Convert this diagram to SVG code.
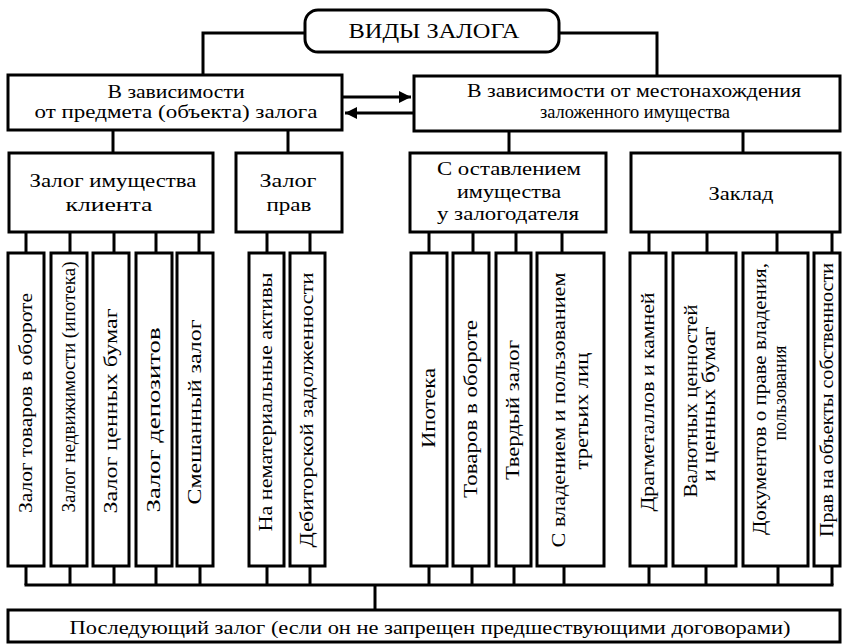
<svg xmlns="http://www.w3.org/2000/svg" width="848" height="644" viewBox="0 0 848 644">
  <style>
    .box { fill: #fff; stroke: #000; stroke-width: 3; }
    .ln { fill: none; stroke: #000; stroke-width: 3; }
    text { font-family: "Liberation Serif", "Times New Roman", serif; font-size: 18px; fill: #000; text-anchor: middle; }
    .v { font-size: 18px; }
    .title { font-size: 20px; }
  </style>
  <defs>
    <marker id="ah" viewBox="0 0 10 10" refX="10" refY="5" markerWidth="7" markerHeight="4" orient="auto" markerUnits="strokeWidth">
      <path d="M0,0 L10,5 L0,10 z" fill="#000"/>
    </marker>
  </defs>
  <rect width="848" height="644" fill="#fff"/>

  <!-- connectors -->
  <g id="connectors">
    <polyline class="ln" points="305,33 203,33 203,75"/>
    <polyline class="ln" points="559,33 657,33 657,77"/>
    <line class="ln" x1="343" y1="97" x2="411" y2="97" marker-end="url(#ah)"/>
    <line class="ln" x1="413" y1="113" x2="345" y2="113" marker-end="url(#ah)"/>
    <line class="ln" x1="113" y1="130" x2="113" y2="153"/>
    <line class="ln" x1="288" y1="130" x2="288" y2="153"/>
    <line class="ln" x1="509" y1="131" x2="509" y2="153"/>
    <line class="ln" x1="743" y1="131" x2="743" y2="153"/>
    <!-- drops to the vertical boxes -->
    <path class="ln" d="M26,232V253 M70,232V253 M114,232V253 M156,232V253 M199,232V253 M267,232V253 M310,232V253 M429,232V253 M473,232V253 M516,232V253 M562,232V253 M649,232V253 M707,232V253 M777,232V253 M832,232V253"/>
    <!-- collector bar at the bottom -->
    <path class="ln" d="M26,566V585 M70,566V585 M114,566V585 M156,566V585 M200,566V585 M267,566V585 M310,566V585 M429,566V585 M472,566V585 M514,566V585 M564,566V585 M649,566V585 M706,566V585 M778,566V585 M832,566V585"/>
    <line class="ln" x1="24.5" y1="585" x2="833.5" y2="585"/>
    <line class="ln" x1="375" y1="585" x2="375" y2="610"/>
  </g>

  <g id="root">
    <rect class="box" x="305" y="10" width="254" height="42" rx="13"/>
    <text class="title" x="434" y="38" textLength="171" lengthAdjust="spacingAndGlyphs">ВИДЫ ЗАЛОГА</text>
  </g>

  <g id="by-subject">
    <rect class="box" x="8" y="75" width="334" height="55"/>
    <text x="176" y="98" textLength="137" lengthAdjust="spacingAndGlyphs">В зависимости</text>
    <text x="176" y="118" textLength="283" lengthAdjust="spacingAndGlyphs">от предмета (объекта) залога</text>
  </g>

  <g id="by-location">
    <rect class="box" x="414" y="76" width="426" height="55"/>
    <text x="634" y="97" textLength="334" lengthAdjust="spacingAndGlyphs">В зависимости от местонахождения</text>
    <text x="635" y="118" textLength="190" lengthAdjust="spacingAndGlyphs">заложенного имущества</text>
  </g>

  <g id="client-property">
    <rect class="box" x="9" y="153" width="204" height="79"/>
    <text x="113" y="187" textLength="167" lengthAdjust="spacingAndGlyphs">Залог имущества</text>
    <text x="109" y="211" textLength="87" lengthAdjust="spacingAndGlyphs">клиента</text>
  </g>

  <g id="rights">
    <rect class="box" x="236" y="153" width="106" height="79"/>
    <text x="288" y="187" textLength="57" lengthAdjust="spacingAndGlyphs">Залог</text>
    <text x="289" y="211" textLength="45" lengthAdjust="spacingAndGlyphs">прав</text>
  </g>

  <g id="kept-by-pledgor">
    <rect class="box" x="410" y="153" width="196" height="79"/>
    <text x="509" y="175" textLength="144" lengthAdjust="spacingAndGlyphs">С оставлением</text>
    <text x="509" y="198" textLength="104" lengthAdjust="spacingAndGlyphs">имущества</text>
    <text x="508" y="220" textLength="142" lengthAdjust="spacingAndGlyphs">у залогодателя</text>
  </g>

  <g id="pawn">
    <rect class="box" x="631" y="153" width="209" height="79"/>
    <text x="741" y="200" textLength="65" lengthAdjust="spacingAndGlyphs">Заклад</text>
  </g>

  <!-- vertical leaf boxes -->
  <g id="goods-in-turnover">
    <rect class="box" x="8" y="253" width="36" height="313"/>
    <text class="v" transform="translate(32,403) rotate(-90)" textLength="220" lengthAdjust="spacingAndGlyphs">Залог товаров в обороте</text>
  </g>
  <g id="real-estate">
    <rect class="box" x="51" y="253" width="36" height="313"/>
    <text class="v" transform="translate(75,387) rotate(-90)" textLength="251" lengthAdjust="spacingAndGlyphs">Залог недвижимости (ипотека)</text>
  </g>
  <g id="securities">
    <rect class="box" x="93" y="253" width="36" height="313"/>
    <text class="v" transform="translate(117,411) rotate(-90)" textLength="205" lengthAdjust="spacingAndGlyphs">Залог ценных бумаг</text>
  </g>
  <g id="deposits">
    <rect class="box" x="136" y="253" width="36" height="313"/>
    <text class="v" transform="translate(160,420) rotate(-90)" textLength="185" lengthAdjust="spacingAndGlyphs">Залог депозитов</text>
  </g>
  <g id="mixed">
    <rect class="box" x="177" y="253" width="36" height="313"/>
    <text class="v" transform="translate(201,412) rotate(-90)" textLength="185" lengthAdjust="spacingAndGlyphs">Смешанный залог</text>
  </g>

  <g id="intangibles">
    <rect class="box" x="249" y="253" width="35" height="313"/>
    <text class="v" transform="translate(272,402) rotate(-90)" textLength="259" lengthAdjust="spacingAndGlyphs">На нематериальные активы</text>
  </g>
  <g id="receivables">
    <rect class="box" x="290" y="253" width="35" height="313"/>
    <text class="v" transform="translate(313,410) rotate(-90)" textLength="275" lengthAdjust="spacingAndGlyphs">Дебиторской задолженности</text>
  </g>

  <g id="mortgage">
    <rect class="box" x="411" y="253" width="36" height="313"/>
    <text class="v" transform="translate(435,408) rotate(-90)" textLength="80" lengthAdjust="spacingAndGlyphs">Ипотека</text>
  </g>
  <g id="goods">
    <rect class="box" x="453" y="253" width="36" height="313"/>
    <text class="v" transform="translate(477,409) rotate(-90)" textLength="178" lengthAdjust="spacingAndGlyphs">Товаров в обороте</text>
  </g>
  <g id="fixed">
    <rect class="box" x="496" y="253" width="35" height="313"/>
    <text class="v" transform="translate(519,410) rotate(-90)" textLength="140" lengthAdjust="spacingAndGlyphs">Твердый залог</text>
  </g>
  <g id="third-parties">
    <rect class="box" x="537" y="253" width="67" height="313"/>
    <text class="v" transform="translate(565,410) rotate(-90)" textLength="275" lengthAdjust="spacingAndGlyphs">С владением и пользованием</text>
    <text class="v" transform="translate(588,411) rotate(-90)" textLength="117" lengthAdjust="spacingAndGlyphs">третьих лиц</text>
  </g>

  <g id="precious-metals">
    <rect class="box" x="630" y="253" width="36" height="313"/>
    <text class="v" transform="translate(654,402) rotate(-90)" textLength="219" lengthAdjust="spacingAndGlyphs">Драгметаллов и камней</text>
  </g>
  <g id="currency">
    <rect class="box" x="673" y="253" width="63" height="313"/>
    <text class="v" transform="translate(697,401) rotate(-90)" textLength="193" lengthAdjust="spacingAndGlyphs">Валютных ценностей</text>
    <text class="v" transform="translate(715,404) rotate(-90)" textLength="155" lengthAdjust="spacingAndGlyphs">и ценных бумаг</text>
  </g>
  <g id="documents">
    <rect class="box" x="743" y="253" width="65" height="313"/>
    <text class="v" transform="translate(766,399) rotate(-90)" textLength="272" lengthAdjust="spacingAndGlyphs">Документов о праве владения,</text>
    <text class="v" transform="translate(786,393) rotate(-90)" textLength="95" lengthAdjust="spacingAndGlyphs">пользования</text>
  </g>
  <g id="ownership">
    <rect class="box" x="814" y="253" width="26" height="313"/>
    <text class="v" transform="translate(833,400) rotate(-90)" textLength="274" lengthAdjust="spacingAndGlyphs">Прав на объекты собственности</text>
  </g>

  <g id="subsequent">
    <rect class="box" x="8" y="610" width="832" height="32"/>
    <text x="430" y="634" textLength="721" lengthAdjust="spacingAndGlyphs">Последующий залог (если он не запрещен предшествующими договорами)</text>
  </g>
</svg>
